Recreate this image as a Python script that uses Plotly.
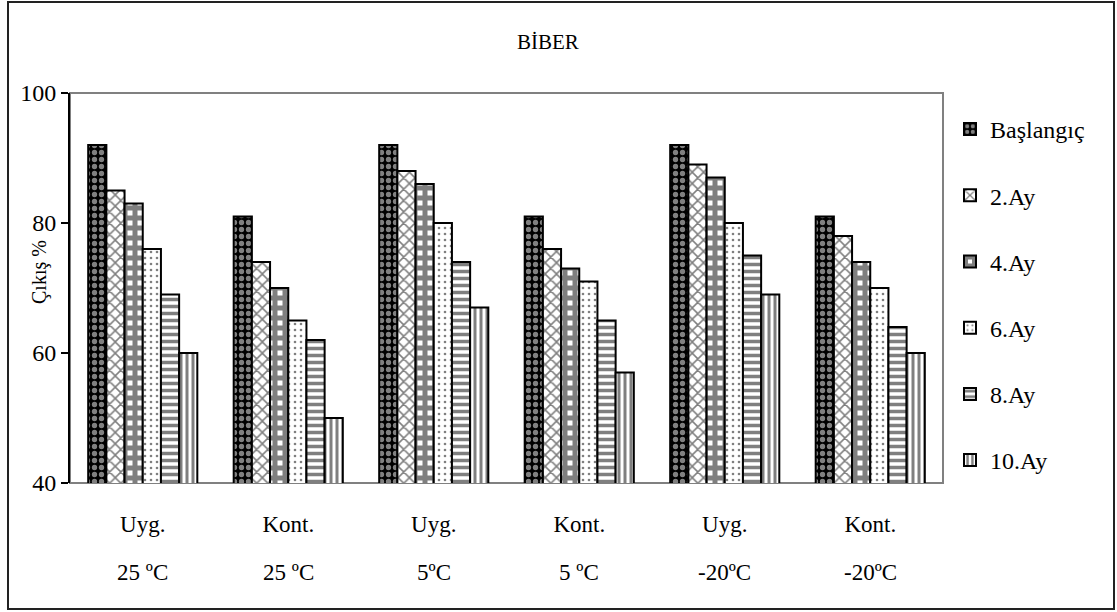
import plotly.graph_objects as go

groups = ["Uyg.", "Kont.", "Uyg.", "Kont.", "Uyg.", "Kont."]
temps = ["25 ºC", "25 ºC", "5ºC", "5 ºC", "-20ºC", "-20ºC"]
series_names = ["Başlangıç", "2.Ay", "4.Ay", "6.Ay", "8.Ay", "10.Ay"]
baslangic = [92, 81, 92, 81, 92, 81]
ay2 = [85, 74, 88, 76, 89, 78]
ay4 = [83, 70, 86, 73, 87, 74]
ay6 = [76, 65, 80, 71, 80, 70]
ay8 = [69, 62, 74, 65, 75, 64]
ay10 = [60, 50, 67, 57, 69, 60]
series_values = [baslangic, ay2, ay4, ay6, ay8, ay10]

FONT = "Liberation Serif, Times New Roman, serif"
patterns = [
    dict(shape=".", bgcolor="black", fgcolor="white", size=7, solidity=0.45),
    dict(shape="x", bgcolor="white", fgcolor="black", size=8, solidity=0.35),
    dict(shape="+", bgcolor="white", fgcolor="black", size=10, solidity=0.75),
    dict(shape=".", bgcolor="white", fgcolor="black", size=6, solidity=0.15),
    dict(shape="-", bgcolor="white", fgcolor="black", size=7, solidity=0.5),
    dict(shape="|", bgcolor="white", fgcolor="black", size=6, solidity=0.5),
]

xpos = list(range(len(groups)))
fig = go.Figure()
for name, vals, pat in zip(series_names, series_values, patterns):
    fig.add_trace(go.Bar(
        x=xpos, y=vals, name=name, legendgroup=name,
        marker=dict(color="white", pattern=pat,
                    line=dict(color="black", width=2)),
    ))

W, H = 1117, 612
L, R, T, B = 70, 943, 93, 483
pw, ph = R - L, B - T

def px(x):
    return (x - L) / pw

def py(y):
    return (B - y) / ph

annotations = [
    dict(text="BİBER", xref="paper", yref="paper", x=px(548), y=py(42),
         xanchor="center", yanchor="middle",
         showarrow=False, font=dict(family=FONT, size=21)),
    dict(text="Çıkış %", xref="paper", yref="paper", x=px(39), y=py(272),
         xanchor="center", yanchor="middle",
         textangle=-90, showarrow=False, font=dict(family=FONT, size=20)),
]
for xp, t in zip(xpos, temps):
    annotations.append(dict(text=t, xref="x", yref="paper", x=xp, y=py(572),
                            xanchor="center", yanchor="middle", showarrow=False,
                            font=dict(family=FONT, size=23)))

fig.update_layout(
    width=W, height=H,
    margin=dict(l=L, r=W - R, t=T, b=H - B),
    paper_bgcolor="white", plot_bgcolor="white",
    barmode="group", bargap=0.25, bargroupgap=0,
    font=dict(family=FONT, size=24, color="black"),
    showlegend=True,
    legend=dict(x=px(950), y=py(107), xanchor="left", yanchor="top",
                font=dict(family=FONT, size=24), tracegroupgap=32,
                maxheight=600,
                itemclick=False, bgcolor="rgba(0,0,0,0)"),
    xaxis=dict(tickmode="array", tickvals=xpos, ticktext=groups,
               range=[-0.5, len(groups) - 0.5], showgrid=False, ticks="",
               showline=False, zeroline=False, ticklabelstandoff=25,
               tickfont=dict(family=FONT, size=23)),
    yaxis=dict(range=[40, 100], dtick=20, showgrid=False, zeroline=False,
               showline=True, linecolor="black", linewidth=2,
               ticks="outside", ticklen=7, tickwidth=1.5, tickcolor="black",
               tickfont=dict(family=FONT, size=24)),
    shapes=[
        dict(type="rect", xref="paper", yref="paper", x0=0, x1=1, y0=0, y1=1,
             line=dict(color="#808080", width=2), layer="below"),
        dict(type="rect", xref="paper", yref="paper",
             x0=px(8), x1=px(1114), y0=py(609), y1=py(2),
             line=dict(color="#222222", width=2), layer="below"),
    ],
    annotations=annotations,
)

fig.write_html("out.html", config={"displayModeBar": False},
               post_script="document.body.style.margin='0';")
